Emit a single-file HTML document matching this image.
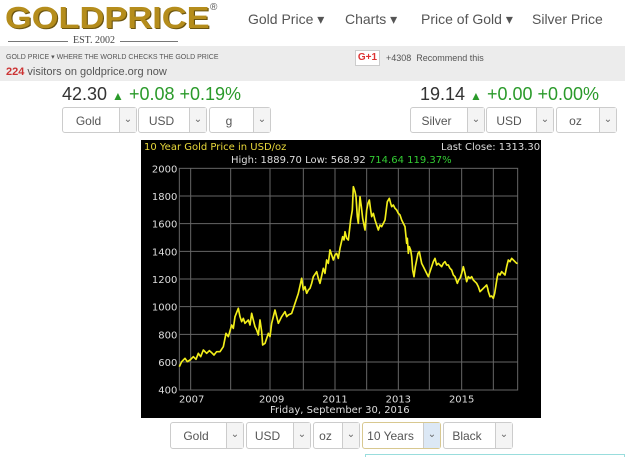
<!DOCTYPE html>
<html><head><style>
*{margin:0;padding:0;box-sizing:border-box}
body{width:625px;height:457px;background:#fff;font-family:"Liberation Sans",sans-serif;position:relative;overflow:hidden}
.a{position:absolute;white-space:nowrap}
.nav{font-size:14px;color:#555;top:11px}
.sel{position:absolute;height:26px;border:1px solid #ccc;border-radius:3px;background:#fff;font-size:12px;color:#555}
.sel span{position:absolute;top:6px;left:0;right:22px;text-align:center}
.sel i{position:absolute;right:0;top:0;bottom:0;width:17px;border-left:1px solid #ccc;font-style:normal;font-size:10px;text-align:center;line-height:24px;color:#666;background:#f4f4f4}
.g{color:#2a9a2a}
</style></head><body>
<div class="a" style="left:5px;top:3px;font-size:31px;line-height:30px;font-weight:bold;color:#b58d1c;transform:scaleX(1.11);transform-origin:left;text-shadow:1px 1px 0 #6b5410">GOLDPRICE</div>
<div class="a" style="left:210px;top:2px;font-size:10px;color:#555">®</div>
<div class="a" style="left:8px;top:41px;width:170px;height:1px;background:#777"></div>
<div class="a" style="left:68px;top:35px;font-family:'Liberation Serif',serif;font-size:10px;color:#444;background:#fff;padding:0 5px">EST. 2002</div>
<div class="a nav" style="left:248px">Gold Price ▾</div>
<div class="a nav" style="left:345px">Charts ▾</div>
<div class="a nav" style="left:421px">Price of Gold ▾</div>
<div class="a nav" style="left:532px">Silver Price</div>
<div class="a" style="left:0;top:46px;width:625px;height:35px;background:#ececec"></div>
<div class="a" style="left:6px;top:53px;font-size:7px;color:#555">GOLD PRICE ▾ WHERE THE WORLD CHECKS THE GOLD PRICE</div>
<div class="a" style="left:6px;top:66px;font-size:11px;color:#555"><b style="color:#c33">224</b> visitors on goldprice.org now</div>
<div class="a" style="left:355px;top:50px;width:25px;height:16px;background:#fff;border:1px solid #ccc;color:#d33;font-size:10px;font-weight:bold;text-align:center;line-height:14px">G+1</div>
<div class="a" style="left:386px;top:53px;font-size:9px;color:#555">+4308 &nbsp;Recommend this</div>
<div class="a" style="left:62px;top:84px;font-size:18px;color:#333">42.30 <span class="g" style="font-size:12px">▲</span> <span class="g">+0.08 +0.19%</span></div>
<div class="a" style="left:420px;top:84px;font-size:18px;color:#333">19.14 <span class="g" style="font-size:12px">▲</span> <span class="g">+0.00 +0.00%</span></div>
<div class="sel" style="left:62px;top:107px;width:75px"><span>Gold</span><i>⌄</i></div>
<div class="sel" style="left:138px;top:107px;width:69px"><span>USD</span><i>⌄</i></div>
<div class="sel" style="left:209px;top:107px;width:62px"><span>g</span><i>⌄</i></div>
<div class="sel" style="left:410px;top:107px;width:75px"><span>Silver</span><i>⌄</i></div>
<div class="sel" style="left:486px;top:107px;width:68px"><span>USD</span><i>⌄</i></div>
<div class="sel" style="left:556px;top:107px;width:61px"><span>oz</span><i>⌄</i></div>

<div class="a" style="left:141px;top:140px;width:400px;height:278px;background:#000"></div>
<svg class="a" style="left:140px;top:160px" width="400" height="250" viewBox="0 0 1200 750">
<g stroke="#666" stroke-width="3" fill="none">
<rect x="118" y="25" width="1015" height="665"/>
<path d="M118 108H1133M118 191H1133M118 274H1133M118 357H1133M118 440H1133M118 523H1133M118 606H1133"/>
<path d="M152 25V690M272 25V690M390 25V690M490 25V690M585 25V690M680 25V690M775 25V690M868 25V690M965 25V690M1060 25V690"/>
</g>
<polyline fill="none" stroke="#f2ee1a" stroke-width="5" stroke-linejoin="round" points="118,620 125,605 135,595 142,605 150,600 160,590 168,598 175,580 182,590 190,570 200,580 208,572 215,578 222,585 230,575 240,575 250,560 258,520 265,530 275,495 280,505 285,470 295,445 300,470 305,485 310,475 315,490 325,480 330,495 335,460 345,500 350,510 355,525 360,480 365,515 368,555 375,550 385,520 390,530 395,490 405,450 410,470 415,490 420,480 425,470 435,455 440,470 445,465 455,460 465,430 470,415 475,400 485,355 490,390 495,380 500,400 505,390 510,385 515,370 520,350 530,335 535,355 540,370 550,325 555,340 560,300 565,310 570,270 575,285 580,300 585,285 590,280 595,295 600,265 608,230 612,240 615,215 620,235 625,240 632,180 637,150 640,80 645,95 648,110 652,170 655,190 660,110 664,140 668,175 672,195 675,210 680,150 684,130 688,120 692,150 695,170 700,160 705,180 710,195 715,210 720,195 725,200 730,190 735,180 740,140 742,125 748,115 752,130 755,140 760,135 765,145 770,150 775,160 780,165 785,180 790,190 795,200 800,250 802,235 805,280 808,260 812,270 815,290 818,330 822,350 826,320 830,300 834,280 838,275 842,295 845,310 850,320 855,330 860,340 865,350 870,335 875,320 880,305 885,295 890,315 895,310 900,315 905,320 910,310 915,305 920,315 925,315 930,325 935,330 940,345 945,350 952,370 956,360 960,355 965,340 970,320 975,340 980,365 985,350 990,355 995,350 1000,360 1005,365 1010,370 1015,380 1020,395 1025,390 1030,385 1035,380 1040,375 1043,385 1045,395 1050,410 1055,408 1060,415 1064,400 1068,375 1072,350 1075,340 1080,345 1085,335 1090,340 1095,345 1100,320 1105,300 1110,305 1115,295 1120,300 1125,305 1130,310 1133,310"/>
<g fill="#ddd" font-family="DejaVu Sans, sans-serif" font-size="30" text-anchor="end">
<text x="112" y="37">2000</text><text x="112" y="120">1800</text><text x="112" y="203">1600</text><text x="112" y="286">1400</text><text x="112" y="369">1200</text><text x="112" y="452">1000</text><text x="112" y="535">800</text><text x="112" y="618">600</text><text x="112" y="701">400</text>
</g>
<g fill="#ddd" font-family="DejaVu Sans, sans-serif" font-size="30" text-anchor="middle">
<text x="155" y="727">2007</text><text x="395" y="727">2009</text><text x="585" y="727">2011</text><text x="775" y="727">2013</text><text x="965" y="727">2015</text>
</g>
</svg>
<div class="a" style="left:144px;top:142px;font-family:'DejaVu Sans',sans-serif;font-size:10px;color:#e8d83a">10 Year Gold Price in USD/oz</div>
<div class="a" style="left:441px;top:142px;font-family:'DejaVu Sans',sans-serif;font-size:10px;color:#ddd">Last Close: 1313.30</div>
<div class="a" style="left:231px;top:155px;font-family:'DejaVu Sans',sans-serif;font-size:10px;color:#ddd">High: 1889.70 Low: 568.92 <span style="color:#3c3">714.64 119.37%</span></div>
<div class="a" style="left:270px;top:405px;font-family:'DejaVu Sans',sans-serif;font-size:10px;color:#ddd">Friday, September 30, 2016</div>

<div class="sel" style="left:170px;top:422px;width:74px;height:27px"><span>Gold</span><i>⌄</i></div>
<div class="sel" style="left:246px;top:422px;width:65px;height:27px"><span>USD</span><i>⌄</i></div>
<div class="sel" style="left:313px;top:422px;width:47px;height:27px"><span>oz</span><i>⌄</i></div>
<div class="sel" style="left:362px;top:422px;width:79px;height:27px;border-color:#d8c890"><span>10 Years</span><i style="background:#dce8f5">⌄</i></div>
<div class="sel" style="left:443px;top:422px;width:70px;height:27px"><span>Black</span><i>⌄</i></div>
<div class="a" style="left:365px;top:454px;width:260px;height:3px;border:1px solid #9dd;border-bottom:none"></div>
</body></html>
